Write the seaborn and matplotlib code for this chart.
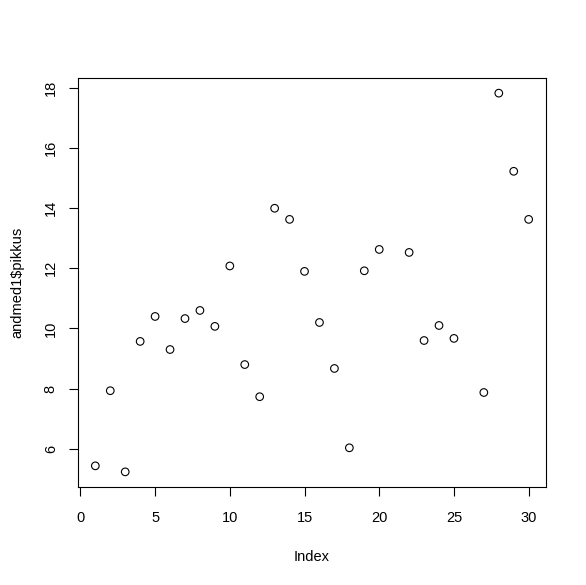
import numpy as np
import pandas as pd
import matplotlib
matplotlib.use("Agg")
import matplotlib.pyplot as plt
import seaborn as sns

# Data (index 21 and 26 are missing values)
index = list(range(1, 31))
pikkus = [5.43, 7.93, 5.23, 9.57, 10.40, 9.30, 10.33, 10.60, 10.07, 12.08,
          8.80, 7.73, 14.00, 13.63, 11.90, 10.20, 8.67, 6.03, 11.92, 12.63,
          np.nan, 12.53, 9.60, 10.10, 9.67, np.nan, 7.87, 17.83, 15.23, 13.63]
x_ticks = [0, 5, 10, 15, 20, 25, 30]
y_ticks = [6, 8, 10, 12, 14, 16, 18]
x_label = "Index"
y_label = "andmed1\\$pikkus"

df = pd.DataFrame({"Index": index, "pikkus": pikkus})

sns.set_theme(style="white")
plt.rcParams["font.family"] = ["Liberation Sans", "DejaVu Sans"]
plt.rcParams["font.size"] = 10.5

W, H = 586, 585
fig = plt.figure(figsize=(W / 100, H / 100), dpi=100)
left, right, top, bottom = 78, 546, 78, 487
ax = fig.add_axes([left / W, (H - bottom) / H, (right - left) / W, (bottom - top) / H])

sns.scatterplot(data=df, x="Index", y="pikkus", ax=ax, marker="o",
                facecolor="none", edgecolor="black", linewidth=0.8, s=30)

vals = np.array([v for v in pikkus if not np.isnan(v)])
ymin, ymax = vals.min(), vals.max()
r = ymax - ymin
ax.set_ylim(ymin - 0.04 * r, ymax + 0.04 * r)
ax.set_xlim(1 - 0.04 * 29, 30 + 0.04 * 29)
ax.set_xticks(x_ticks)
ax.set_yticks(y_ticks)
ax.set_xticklabels([str(t) for t in x_ticks])
ax.set_yticklabels([str(t) for t in y_ticks], rotation=90, va="center")

for s in ax.spines.values():
    s.set_visible(True)
    s.set_color("black")
    s.set_linewidth(0.8)

ax.tick_params(axis="both", direction="out", length=6.5, width=0.8, color="black",
               labelsize=10.5, labelcolor="black")
ax.tick_params(axis="x", pad=11, bottom=True)
ax.tick_params(axis="y", pad=8, left=True)

ax.set_xlabel(x_label, fontsize=10.5, color="black", labelpad=18)
ax.set_ylabel(y_label, fontsize=10.5, color="black", labelpad=14)
ax.grid(False)

fig.savefig("out.png", dpi=100, facecolor="white")
